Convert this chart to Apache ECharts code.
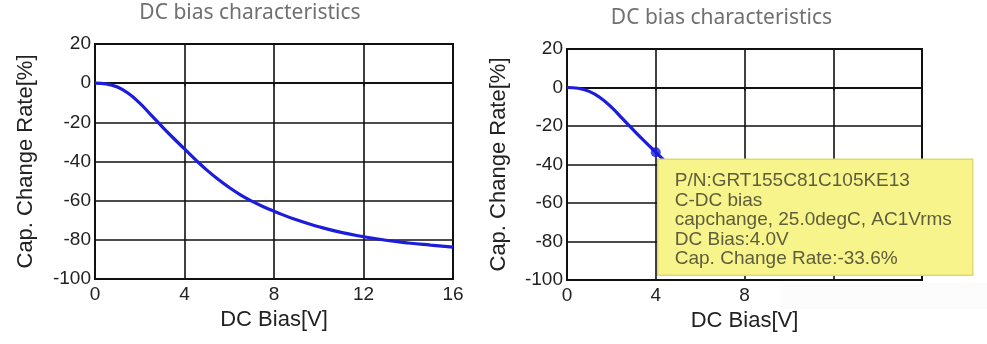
<!DOCTYPE html>
<html>
<head>
<meta charset="utf-8">
<script src="https://cdn.jsdelivr.net/npm/echarts@6/dist/echarts.min.js"></script>
<style>
html,body{margin:0;padding:0;background:#fff;}
#c{width:987px;height:344px;}
</style>
</head>
<body>
<div id="c"></div>
<script>
const chartTitle = 'DC bias characteristics';
const xName = 'DC Bias[V]';
const yName = 'Cap. Change Rate[%]';
const dcBias = [0, 0.5, 1, 1.5, 2, 2.5, 3, 3.5, 4, 4.5, 5, 5.5, 6, 6.5, 7, 7.5, 8, 9, 10, 11, 12, 13, 14, 15, 16];
const capChange = [0, -0.4, -2, -5.3, -10.2, -16.2, -22.2, -28.0, -33.6, -39.2, -44.4, -49.1, -53.3, -57.0, -60.2, -63.0, -65.4, -69.8, -73.3, -76.2, -78.4, -80.2, -81.6, -82.7, -83.7];
const xTicks = [0, 4, 8, 12, 16];
const yTicks = [20, 0, -20, -40, -60, -80, -100];
const hoverIndex = 8;
const tipLines = [
  'P/N:GRT155C81C105KE13',
  'C-DC bias',
  'capchange, 25.0degC, AC1Vrms',
  'DC Bias:' + dcBias[hoverIndex].toFixed(1) + 'V',
  'Cap. Change Rate:' + capChange[hoverIndex].toFixed(1) + '%'
];

const pts = dcBias.map((x, i) => [x, capChange[i]]);
const FONT = 'Liberation Sans';

function xAxisCfg(gi, nameGap) {
  return {
    type: 'value', gridIndex: gi, min: xTicks[0], max: xTicks[xTicks.length - 1], interval: xTicks[1] - xTicks[0],
    name: xName, nameLocation: 'middle', nameGap: nameGap,
    nameTextStyle: {fontFamily: FONT, fontSize: 22, color: '#222'},
    axisLine: {show: true, lineStyle: {color: '#111', width: 2}},
    axisTick: {show: true, length: 3, lineStyle: {color: '#111', width: 1.5}},
    axisLabel: {fontFamily: FONT, fontSize: 19, color: '#222', margin: 6},
    splitLine: {show: true, lineStyle: {color: '#111', width: 1.6}}
  };
}
function yAxisCfg(gi, nameGap) {
  return {
    type: 'value', gridIndex: gi, min: yTicks[yTicks.length - 1], max: yTicks[0], interval: yTicks[0] - yTicks[1],
    name: yName, nameLocation: 'middle', nameGap: nameGap,
    nameTextStyle: {fontFamily: FONT, fontSize: 22, color: '#222'},
    axisLine: {show: true, lineStyle: {color: '#111', width: 2}},
    axisTick: {show: false},
    axisLabel: {fontFamily: FONT, fontSize: 19, color: '#222', margin: 4},
    splitLine: {show: true, lineStyle: {color: '#111', width: 1.6}}
  };
}

const chart = echarts.init(document.getElementById('c'), null, {renderer: 'canvas'});
chart.setOption({
  animation: false,
  backgroundColor: '#fff',
  grid: [
    {left: 95, right: 534, top: 44, bottom: 65, show: true, borderColor: '#111', borderWidth: 2, backgroundColor: '#fff'},
    {left: 567, right: 65, top: 49, bottom: 64, show: true, borderColor: '#111', borderWidth: 2, backgroundColor: '#fff'}
  ],
  xAxis: [xAxisCfg(0, 22), xAxisCfg(1, 24)],
  yAxis: [yAxisCfg(0, 58), yAxisCfg(1, 57)],
  series: [
    {type: 'line', xAxisIndex: 0, yAxisIndex: 0, data: pts, smooth: 0.5, showSymbol: false,
     lineStyle: {color: '#1c1cdc', width: 3.2}},
    {type: 'line', xAxisIndex: 1, yAxisIndex: 1, data: pts, smooth: 0.5, showSymbol: false,
     lineStyle: {color: '#1c1cdc', width: 3.2}},
    {type: 'scatter', xAxisIndex: 1, yAxisIndex: 1, data: [pts[hoverIndex]], symbolSize: 10,
     itemStyle: {color: '#1c1cdc'}, z: 5}
  ]
});

const p = chart.convertToPixel({xAxisIndex: 1, yAxisIndex: 1}, pts[hoverIndex]);
const g0L = chart.convertToPixel({xAxisIndex: 0}, 0), g0R = chart.convertToPixel({xAxisIndex: 0}, 16);
const g1L = chart.convertToPixel({xAxisIndex: 1}, 0), g1R = chart.convertToPixel({xAxisIndex: 1}, 16);
const g1B = chart.convertToPixel({yAxisIndex: 1}, -100);
const patchX = chart.convertToPixel({xAxisIndex: 1}, 9.6);

const tipX = p[0] + 2, tipY = p[1] + 7;
chart.setOption({
  graphic: [
    {type: 'text', x: (g0L + g0R) / 2 - 24, y: 3, zlevel: 1,
     style: {text: chartTitle, font: '21px "Noto Sans"', fill: '#707070', textAlign: 'center'}},
    {type: 'text', x: (g1L + g1R) / 2 - 23, y: 8, zlevel: 1,
     style: {text: chartTitle, font: '21px "Noto Sans"', fill: '#707070', textAlign: 'center'}},
    {type: 'rect', x: patchX, y: g1B + 3, zlevel: 1,
     shape: {width: 987 - patchX, height: 26},
     style: {fill: '#fcfcfc'}},
    {type: 'rect', x: tipX, y: tipY, zlevel: 2, z: 10,
     shape: {x: 0, y: 0, width: 315, height: 116},
     style: {fill: '#f8f48c', stroke: '#e2d96c', lineWidth: 1.5}},
    {type: 'text', x: tipX + 17, y: tipY + 12, zlevel: 2, z: 11,
     style: {text: tipLines.join('\n'), font: '19px "Liberation Sans"', lineHeight: 19.5, fill: '#5e5d3c'}}
  ]
});
</script>
</body>
</html>
